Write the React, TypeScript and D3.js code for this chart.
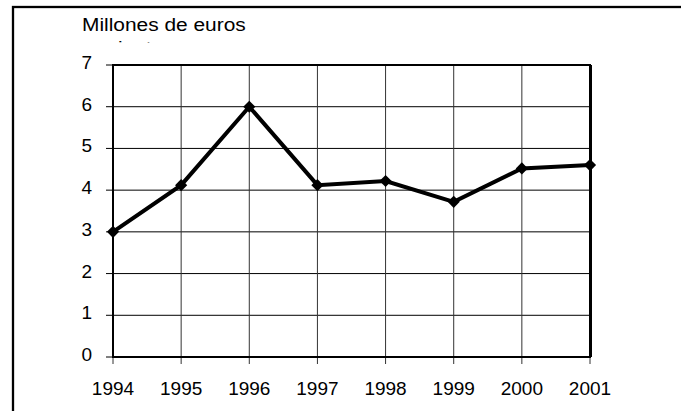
import React, { useEffect, useRef } from 'react';
import * as d3 from 'd3';

const years = ['1994', '1995', '1996', '1997', '1998', '1999', '2000', '2001'];
const values = [3.0, 4.12, 6.0, 4.12, 4.22, 3.72, 4.52, 4.6];
const yTicks = [0, 1, 2, 3, 4, 5, 6, 7];
const titleLines = ['Millones de euros', 'corrientes'];

function App() {
  const ref = useRef<SVGSVGElement>(null);

  useEffect(() => {
    const svg = d3.select(ref.current);
    svg.selectAll('*').remove();

    const left = 113, right = 590, top = 65, bottom = 357;
    const font = 'Liberation Sans, Arial, sans-serif';

    const x = d3.scalePoint().domain(years).range([left, right]);
    const y = d3.scaleLinear().domain([0, 7]).range([bottom, top]);

    // outer frame (only top and left edges inside the view)
    svg.append('rect')
      .attr('x', 13).attr('y', 7)
      .attr('width', 700).attr('height', 420)
      .attr('fill', 'white')
      .attr('stroke', 'black')
      .attr('stroke-width', 2.3);

    // title, second line cut off
    svg.append('clipPath').attr('id', 'titleclip')
      .append('rect').attr('x', 0).attr('y', 0).attr('width', 681).attr('height', 42.5);

    const title = svg.append('g')
      .attr('clip-path', 'url(#titleclip)');
    titleLines.forEach((t, i) => {
      title.append('text')
        .attr('transform', `translate(82,${31 + i * 22.5}) scale(1.1,1)`)
        .attr('font-family', font)
        .attr('font-size', 19)
        .attr('fill', 'black')
        .text(t);
    });

    // horizontal grid
    svg.append('g')
      .selectAll('line')
      .data(yTicks)
      .join('line')
        .attr('x1', left - 7).attr('x2', right)
        .attr('y1', d => y(d)).attr('y2', d => y(d))
        .attr('stroke', 'black')
        .attr('stroke-width', 1);

    // vertical grid
    svg.append('g')
      .selectAll('line')
      .data(years)
      .join('line')
        .attr('x1', d => x(d)!).attr('x2', d => x(d)!)
        .attr('y1', top).attr('y2', bottom + 7)
        .attr('stroke', '#333')
        .attr('stroke-width', 1);

    // plot border
    svg.append('rect')
      .attr('x', left).attr('y', top)
      .attr('width', right - left).attr('height', bottom - top)
      .attr('fill', 'none')
      .attr('stroke', 'black')
      .attr('stroke-width', 2);
    svg.append('line')
      .attr('x1', right + 0.5).attr('x2', right + 0.5)
      .attr('y1', top).attr('y2', bottom)
      .attr('stroke', 'black').attr('stroke-width', 3);

    // y labels
    svg.append('g')
      .selectAll('text')
      .data(yTicks)
      .join('text')
        .attr('x', 92)
        .attr('y', d => y(d) + 4)
        .attr('text-anchor', 'end')
        .attr('font-family', font)
        .attr('font-size', 19)
        .text(d => d);

    // x labels
    svg.append('g')
      .selectAll('text')
      .data(years)
      .join('text')
        .attr('x', d => x(d)!)
        .attr('y', bottom + 38)
        .attr('text-anchor', 'middle')
        .attr('font-family', font)
        .attr('font-size', 19)
        .text(d => d);

    const pts = years.map((yr, i) => ({ yr, v: values[i] }));

    const line = d3.line<{ yr: string; v: number }>()
      .x(d => x(d.yr)!)
      .y(d => y(d.v));

    svg.append('path')
      .datum(pts)
      .attr('d', line)
      .attr('fill', 'none')
      .attr('stroke', 'black')
      .attr('stroke-width', 4)
      .attr('stroke-linejoin', 'miter');

    const diamond = d3.symbol().type(d3.symbolSquare).size(74);
    svg.append('g')
      .selectAll('path')
      .data(pts)
      .join('path')
        .attr('d', diamond)
        .attr('transform', d => `translate(${x(d.yr)},${y(d.v)}) rotate(45)`)
        .attr('fill', 'black');
  }, []);

  return (
    <svg ref={ref} width={681} height={411}
      style={{ position: 'absolute', left: 0, top: 0, background: 'white' }} />
  );
}

export default App;
